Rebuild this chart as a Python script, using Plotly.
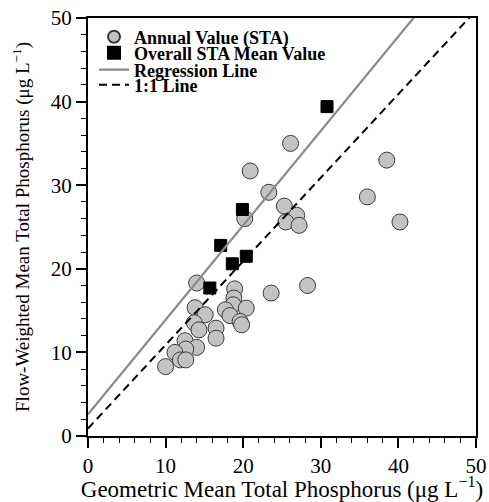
import plotly.graph_objects as go

# Annual values (STA): geometric mean (x) vs flow-weighted mean (y), µg/L
annual_x = [26.1, 38.5, 36.0, 40.2, 23.3, 20.9, 25.3, 26.9, 25.5, 27.2, 20.2, 28.3, 23.6,
            14.0,
            18.9, 18.8, 18.7, 20.4, 17.7, 18.3, 19.6, 19.8,
            13.8, 15.1, 13.7, 14.3, 16.5, 16.5, 12.5, 14.0, 12.6, 11.2, 11.9, 12.6, 10.0]
annual_y = [35.0, 33.0, 28.6, 25.6, 29.15, 31.7, 27.5, 26.4, 25.6, 25.2, 26.0, 18.0, 17.1,
            18.3,
            17.6, 16.5, 15.7, 15.3, 15.1, 14.4, 13.7, 13.3,
            15.35, 14.5, 13.55, 12.7, 12.9, 11.7, 11.4, 10.6, 10.4, 10.0, 9.1, 9.1, 8.3]

# Overall STA mean values
mean_x = [30.8, 19.9, 17.1, 20.4, 18.6, 15.7]
mean_y = [39.4, 27.1, 22.8, 21.5, 20.6, 17.7]

# Regression line and 1:1 line (as drawn)
reg_intercept = 2.6
reg_slope = 1.13
one_intercept = 0.9
one_slope = 1.0
line_x = [0, 50]
reg_y = [reg_intercept + reg_slope * v for v in line_x]
one_y = [one_intercept + one_slope * v for v in line_x]

serif = "Liberation Serif"

fig = go.Figure()
fig.add_trace(go.Scatter(
    x=annual_x, y=annual_y, mode="markers", name="Annual Value (STA)",
    marker=dict(symbol="circle", size=16, color="#c3c3c3",
                line=dict(color="#3a3a3a", width=1)),
    legend="legend",
))
fig.add_trace(go.Scatter(
    x=mean_x, y=mean_y, mode="markers", name="Overall STA Mean Value",
    marker=dict(symbol="square", size=12, color="black",
                line=dict(color="black", width=1)),
    legend="legend2",
))
fig.add_trace(go.Scatter(
    x=line_x, y=reg_y, mode="lines", name="Regression Line",
    line=dict(color="#8a8a8a", width=2.2),
    legend="legend3",
))
fig.add_trace(go.Scatter(
    x=line_x, y=one_y, mode="lines", name="1:1 Line",
    line=dict(color="black", width=2, dash="8px,5px"),
    legend="legend4",
))

axis_common = dict(
    range=[0, 50], dtick=10, tick0=0,
    ticks="outside", ticklen=10, tickwidth=1.5, tickcolor="black",
    minor=dict(dtick=2, ticks="outside", ticklen=5, tickwidth=1, tickcolor="black"),
    showline=True, linecolor="black", linewidth=2, mirror=True,
    showgrid=False, zeroline=False, automargin=False,
    tickfont=dict(family=serif, size=21, color="black"),
)

leg_font = dict(family=serif, size=18, color="black", weight="bold")
def leg(y, sizing):
    return dict(x=0.0155, y=y, xanchor="left", yanchor="middle",
                bgcolor="rgba(0,0,0,0)", borderwidth=0,
                font=leg_font, itemsizing=sizing)

fig.update_layout(
    width=489, height=502,
    margin=dict(l=88, r=13, t=18, b=66),
    paper_bgcolor="white", plot_bgcolor="white",
    xaxis=dict(**axis_common,
               title=dict(text="Geometric Mean Total Phosphorus (μg L<sup>−1</sup>)",
                          font=dict(family=serif, size=23, color="black"),
                          standoff=5)),
    yaxis=dict(**axis_common,
               title=dict(text="Flow-Weighted Mean Total Phosphorus (μg L<sup>−1</sup>)",
                          font=dict(family=serif, size=19, color="black"),
                          standoff=16)),
    showlegend=True,
    legend=leg(0.9545, "constant"),
    legend2=leg(0.9163, "constant"),
    legend3=leg(0.8756, "trace"),
    legend4=leg(0.8397, "trace"),
)

fig.write_html("out.html",
               config={"displayModeBar": False},
               post_script="document.body.style.margin='0';document.body.style.padding='0';")
